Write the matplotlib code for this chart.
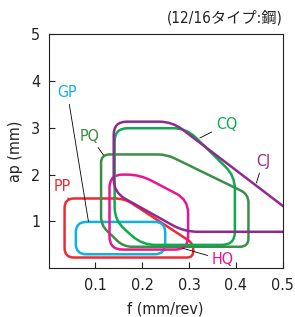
import matplotlib
matplotlib.use("Agg")
import matplotlib.pyplot as plt
from matplotlib import font_manager as fm
from matplotlib.path import Path
from matplotlib.patches import PathPatch
import numpy as np

# region outlines (f in mm/rev, ap in mm)
pp_f = [0.034, 0.034, 0.162, 0.309, 0.309]
pp_ap = [0.23, 1.49, 1.49, 0.53, 0.23]
gp_f = [0.058, 0.058, 0.249, 0.249]
gp_ap = [0.30, 0.99, 0.99, 0.30]
pq_f = [0.112, 0.112, 0.252, 0.427, 0.427, 0.160]
pq_ap = [0.92, 2.43, 2.43, 1.58, 0.46, 0.46]
cq_f = [0.141, 0.141, 0.294, 0.398, 0.398, 0.200]
cq_ap = [1.02, 2.99, 2.99, 1.97, 0.50, 0.50]
hq_f = [0.130, 0.130, 0.195, 0.298, 0.298]
hq_ap = [0.40, 2.00, 2.00, 1.46, 0.40]
cj_f = [0.139, 0.139, 0.264, 0.573, 0.290]
cj_ap = [1.62, 3.13, 3.13, 0.78, 0.78]

XSCALE = 10.0  # 0.1 mm/rev on x is about as long as 1 mm on y


def rounded(xs, ys, r):
    pts = np.column_stack([np.array(xs) * XSCALE, ys])
    n = len(pts)
    verts, codes = [], []
    for i in range(n):
        p0, p1, p2 = pts[i - 1], pts[i], pts[(i + 1) % n]
        d1, d2 = p0 - p1, p2 - p1
        l1, l2 = np.hypot(*d1), np.hypot(*d2)
        rr = min(r, 0.45 * l1, 0.45 * l2)
        a = p1 + d1 / l1 * rr
        b = p1 + d2 / l2 * rr
        verts.append(a)
        codes.append(Path.MOVETO if i == 0 else Path.LINETO)
        verts += [p1, b]
        codes += [Path.CURVE3, Path.CURVE3]
    verts.append(verts[0])
    codes.append(Path.LINETO)
    verts = np.array(verts)
    verts[:, 0] /= XSCALE
    return Path(verts, codes)


# narrow latin font if one is around, otherwise DejaVu
stretch = "normal"
family = "DejaVu Sans"
for cand in ["Liberation Sans Narrow", "DejaVu Sans Condensed"]:
    try:
        fm.findfont(cand, fallback_to_default=False)
        family = cand
        break
    except ValueError:
        pass
else:
    p = fm.findfont(fm.FontProperties(family="DejaVu Sans", stretch="condensed"))
    if "Condensed" in p:
        stretch = "condensed"

plt.rcParams["font.family"] = [family, "Noto Sans CJK JP"]
plt.rcParams["font.stretch"] = stretch

fig = plt.figure(figsize=(2.95, 3.17), dpi=100)
ax = fig.add_axes([0.165, 0.1536, 0.793, 0.739])

shapes = [
    (pp_f, pp_ap, "#ee2b2f", 0.20),
    (gp_f, gp_ap, "#12b0ea", 0.22),
    (pq_f, pq_ap, "#3b8e46", 0.18),
    (hq_f, hq_ap, "#e8168f", 0.28),
    (cq_f, cq_ap, "#10a94f", 0.28),
    (cj_f, cj_ap, "#8e2b8e", 0.28),
]
for xs, ys, col, r in shapes:
    ax.add_patch(PathPatch(rounded(xs, ys, r), fill=False, edgecolor=col,
                           lw=1.8, clip_on=True))

labels = [
    ("GP", (0.085, 1.0), (0.040, 3.75), "#12b0ea"),
    ("PQ", (0.117, 2.42), (0.088, 2.82), "#3b8e46"),
    ("PP", (0.042, 1.49), (0.028, 1.75), "#ee2b2f"),
    ("CQ", (0.323, 2.78), (0.38, 3.07), "#10a94f"),
    ("CJ", (0.444, 1.82), (0.458, 2.28), "#8e2b8e"),
    ("HQ", (0.286, 0.43), (0.372, 0.18), "#e8168f"),
]
for name, xy, xyt, col in labels:
    ax.annotate(name, xy=xy, xytext=xyt, color=col, fontsize=11.5,
                ha="center", va="center",
                arrowprops=dict(arrowstyle="-", color="black", lw=0.6,
                                shrinkA=1, shrinkB=0))

ax.set_xlim(0, 0.5)
ax.set_ylim(0, 5)
ax.set_xticks([0.1, 0.2, 0.3, 0.4, 0.5])
ax.set_xticklabels(["0.1", "0.2", "0.3", "0.4", "0.5"])
ax.set_yticks([1, 2, 3, 4, 5])
ax.tick_params(direction="in", length=4, width=0.8, labelsize=11.5,
               colors="#222222")
ax.tick_params(axis="x", pad=7)
ax.tick_params(axis="y", pad=6)
for s in ax.spines.values():
    s.set_linewidth(0.8)
    s.set_color("#222222")
ax.set_xlabel("f (mm/rev)", fontsize=11.5, labelpad=6, color="#222222")
ax.set_ylabel("ap (mm)", fontsize=11.5, labelpad=6, color="#222222")

fig.text(0.958, 0.945, "(12/16タイプ:鋼)", ha="right", va="center",
         fontsize=11, color="#222222")

fig.savefig("out.png", dpi=100)
